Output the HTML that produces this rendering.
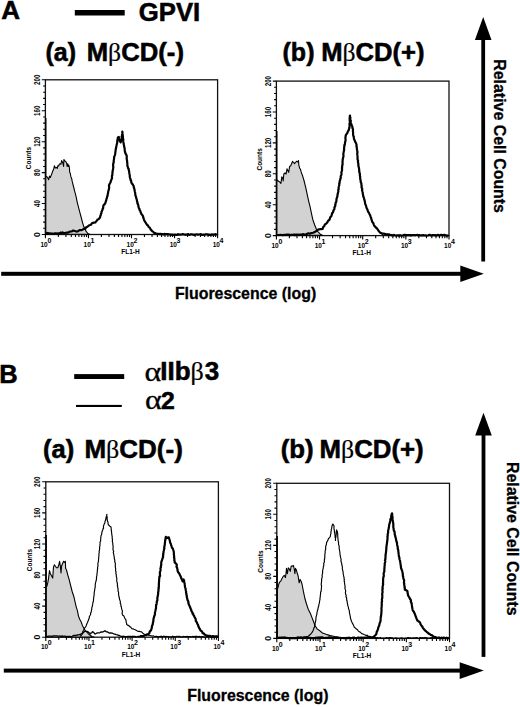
<!DOCTYPE html><html><head><meta charset="utf-8"><style>html,body{margin:0;padding:0;background:#fff;}svg{display:block;}</style></head><body>
<svg width="520" height="707" viewBox="0 0 520 707" font-family='"Liberation Sans", sans-serif'>
<style>.h{stroke:#000;stroke-width:0.55px;}</style><rect width="520" height="707" fill="#fff"/>
<text x="1.2" y="18.8" font-size="26" font-weight="bold" class="h">A</text>
<rect x="74.8" y="10" width="49.9" height="5.5" fill="#000"/>
<text x="138.8" y="20.5" font-size="25.7" font-weight="bold" class="h">GPVI</text>
<text x="45.45" y="61.2" font-size="25" font-weight="bold" class="h">(a)</text><text x="86.7" y="60.7" font-size="25.7" font-weight="bold" class="h">M<tspan font-weight="normal" font-family="Liberation Serif" style="stroke-width:0.2px">β</tspan>CD(-)</text>
<text x="282.55" y="60.5" font-size="25" font-weight="bold" class="h">(b)</text><text x="321.2" y="60.7" font-size="25.6" font-weight="bold" class="h">M<tspan font-weight="normal" font-family="Liberation Serif" style="stroke-width:0.2px">β</tspan>CD(+)</text>
<text x="43.1" y="458" font-size="25.5" font-weight="bold" class="h">(a)</text><text x="84.4" y="457.7" font-size="26" font-weight="bold" class="h">M<tspan font-weight="normal" font-family="Liberation Serif" style="stroke-width:0.2px">β</tspan>CD(-)</text>
<text x="280.7" y="458.2" font-size="25.8" font-weight="bold" class="h">(b)</text><text x="319.5" y="457.8" font-size="25.8" font-weight="bold" class="h">M<tspan font-weight="normal" font-family="Liberation Serif" style="stroke-width:0.2px">β</tspan>CD(+)</text>
<text x="-0.8" y="382.6" font-size="25.5" font-weight="bold" class="h">B</text>
<rect x="74.2" y="374.1" width="50" height="4.9" fill="#000"/>
<rect x="76" y="404.9" width="45.8" height="2.1" fill="#000"/>
<text transform="translate(144.6 380.6) scale(1.16 1)" font-size="27.5" font-family="Liberation Serif" class="h" style="stroke-width:0.3px">α</text>
<text x="160.3" y="380.4" font-size="26" font-weight="bold" class="h">IIb</text>
<text x="190.6" y="380.4" font-size="26" font-family="Liberation Serif" class="h" style="stroke-width:0.2px">β</text>
<text x="204.7" y="380.4" font-size="26" font-weight="bold" class="h">3</text>
<text transform="translate(145.1 408.8) scale(1.16 1)" font-size="27.5" font-family="Liberation Serif" class="h" style="stroke-width:0.3px">α</text>
<text x="161.0" y="408.6" font-size="24.8" font-weight="bold" class="h">2</text>
<rect x="45.4" y="79.8" width="172.20" height="154.70" fill="none" stroke="#111" stroke-width="1.3"/>
<path d="M45.40 234.50H41.80 M45.40 228.31H43.10 M45.40 222.12H43.10 M45.40 215.94H43.10 M45.40 209.75H43.10 M45.40 203.56H41.80 M45.40 197.37H43.10 M45.40 191.18H43.10 M45.40 185.00H43.10 M45.40 178.81H43.10 M45.40 172.62H41.80 M45.40 166.43H43.10 M45.40 160.24H43.10 M45.40 154.06H43.10 M45.40 147.87H43.10 M45.40 141.68H41.80 M45.40 135.49H43.10 M45.40 129.30H43.10 M45.40 123.12H43.10 M45.40 116.93H43.10 M45.40 110.74H41.80 M45.40 104.55H43.10 M45.40 98.36H43.10 M45.40 92.18H43.10 M45.40 85.99H43.10 M45.40 79.80H41.80 M45.40 234.50V238.30 M58.36 234.50V237.10 M65.94 234.50V237.10 M71.32 234.50V237.10 M75.49 234.50V237.10 M78.90 234.50V237.10 M81.78 234.50V237.10 M84.28 234.50V237.10 M86.48 234.50V237.10 M88.45 234.50V238.30 M101.41 234.50V237.10 M108.99 234.50V237.10 M114.37 234.50V237.10 M118.54 234.50V237.10 M121.95 234.50V237.10 M124.83 234.50V237.10 M127.33 234.50V237.10 M129.53 234.50V237.10 M131.50 234.50V238.30 M144.46 234.50V237.10 M152.04 234.50V237.10 M157.42 234.50V237.10 M161.59 234.50V237.10 M165.00 234.50V237.10 M167.88 234.50V237.10 M170.38 234.50V237.10 M172.58 234.50V237.10 M174.55 234.50V238.30 M187.51 234.50V237.10 M195.09 234.50V237.10 M200.47 234.50V237.10 M204.64 234.50V237.10 M208.05 234.50V237.10 M210.93 234.50V237.10 M213.43 234.50V237.10 M215.63 234.50V237.10 M217.60 234.50V238.30" stroke="#000" stroke-width="1.1" fill="none"/>
<text transform="translate(40.00 234.50) rotate(-90)" text-anchor="middle" font-size="8.6" font-weight="bold">0</text>
<text transform="translate(40.00 203.56) rotate(-90)" text-anchor="middle" font-size="8.6" font-weight="bold" textLength="6.90" lengthAdjust="spacingAndGlyphs">40</text>
<text transform="translate(40.00 172.62) rotate(-90)" text-anchor="middle" font-size="8.6" font-weight="bold" textLength="6.90" lengthAdjust="spacingAndGlyphs">80</text>
<text transform="translate(40.00 141.68) rotate(-90)" text-anchor="middle" font-size="8.6" font-weight="bold" textLength="10.35" lengthAdjust="spacingAndGlyphs">120</text>
<text transform="translate(40.00 110.74) rotate(-90)" text-anchor="middle" font-size="8.6" font-weight="bold" textLength="10.35" lengthAdjust="spacingAndGlyphs">160</text>
<text transform="translate(40.00 79.80) rotate(-90)" text-anchor="middle" font-size="8.6" font-weight="bold" textLength="10.35" lengthAdjust="spacingAndGlyphs">200</text>
<text transform="translate(31.20 158.10) rotate(-90)" text-anchor="middle" font-size="7.8" font-weight="bold" textLength="22.3" lengthAdjust="spacingAndGlyphs">Counts</text>
<text x="44.10" y="246.60" text-anchor="middle" font-size="7.9" font-weight="bold" textLength="7.2" lengthAdjust="spacingAndGlyphs">10</text>
<text x="47.40" y="242.70" font-size="7" font-weight="bold">0</text>
<text x="87.15" y="246.60" text-anchor="middle" font-size="7.9" font-weight="bold" textLength="7.2" lengthAdjust="spacingAndGlyphs">10</text>
<text x="90.45" y="242.70" font-size="7" font-weight="bold">1</text>
<text x="130.20" y="246.60" text-anchor="middle" font-size="7.9" font-weight="bold" textLength="7.2" lengthAdjust="spacingAndGlyphs">10</text>
<text x="133.50" y="242.70" font-size="7" font-weight="bold">2</text>
<text x="173.25" y="246.60" text-anchor="middle" font-size="7.9" font-weight="bold" textLength="7.2" lengthAdjust="spacingAndGlyphs">10</text>
<text x="176.55" y="242.70" font-size="7" font-weight="bold">3</text>
<text x="216.30" y="246.60" text-anchor="middle" font-size="7.9" font-weight="bold" textLength="7.2" lengthAdjust="spacingAndGlyphs">10</text>
<text x="219.60" y="242.70" font-size="7" font-weight="bold">4</text>
<text x="130.45" y="253.80" text-anchor="middle" font-size="8" font-weight="bold" textLength="18.5" lengthAdjust="spacingAndGlyphs">FL1-H</text>
<path d="M45.70 234.50V118" stroke="#000" stroke-width="1.6"/>
<rect x="276.4" y="81.1" width="172.60" height="154.50" fill="none" stroke="#111" stroke-width="1.3"/>
<path d="M276.40 235.60H272.80 M276.40 229.42H274.10 M276.40 223.24H274.10 M276.40 217.06H274.10 M276.40 210.88H274.10 M276.40 204.70H272.80 M276.40 198.52H274.10 M276.40 192.34H274.10 M276.40 186.16H274.10 M276.40 179.98H274.10 M276.40 173.80H272.80 M276.40 167.62H274.10 M276.40 161.44H274.10 M276.40 155.26H274.10 M276.40 149.08H274.10 M276.40 142.90H272.80 M276.40 136.72H274.10 M276.40 130.54H274.10 M276.40 124.36H274.10 M276.40 118.18H274.10 M276.40 112.00H272.80 M276.40 105.82H274.10 M276.40 99.64H274.10 M276.40 93.46H274.10 M276.40 87.28H274.10 M276.40 81.10H272.80 M276.40 235.60V239.40 M289.39 235.60V238.20 M296.99 235.60V238.20 M302.38 235.60V238.20 M306.56 235.60V238.20 M309.98 235.60V238.20 M312.87 235.60V238.20 M315.37 235.60V238.20 M317.58 235.60V238.20 M319.55 235.60V239.40 M332.54 235.60V238.20 M340.14 235.60V238.20 M345.53 235.60V238.20 M349.71 235.60V238.20 M353.13 235.60V238.20 M356.02 235.60V238.20 M358.52 235.60V238.20 M360.73 235.60V238.20 M362.70 235.60V239.40 M375.69 235.60V238.20 M383.29 235.60V238.20 M388.68 235.60V238.20 M392.86 235.60V238.20 M396.28 235.60V238.20 M399.17 235.60V238.20 M401.67 235.60V238.20 M403.88 235.60V238.20 M405.85 235.60V239.40 M418.84 235.60V238.20 M426.44 235.60V238.20 M431.83 235.60V238.20 M436.01 235.60V238.20 M439.43 235.60V238.20 M442.32 235.60V238.20 M444.82 235.60V238.20 M447.03 235.60V238.20 M449.00 235.60V239.40" stroke="#000" stroke-width="1.1" fill="none"/>
<text transform="translate(271.00 235.60) rotate(-90)" text-anchor="middle" font-size="8.6" font-weight="bold">0</text>
<text transform="translate(271.00 204.70) rotate(-90)" text-anchor="middle" font-size="8.6" font-weight="bold" textLength="6.90" lengthAdjust="spacingAndGlyphs">40</text>
<text transform="translate(271.00 173.80) rotate(-90)" text-anchor="middle" font-size="8.6" font-weight="bold" textLength="6.90" lengthAdjust="spacingAndGlyphs">80</text>
<text transform="translate(271.00 142.90) rotate(-90)" text-anchor="middle" font-size="8.6" font-weight="bold" textLength="10.35" lengthAdjust="spacingAndGlyphs">120</text>
<text transform="translate(271.00 112.00) rotate(-90)" text-anchor="middle" font-size="8.6" font-weight="bold" textLength="10.35" lengthAdjust="spacingAndGlyphs">160</text>
<text transform="translate(271.00 81.10) rotate(-90)" text-anchor="middle" font-size="8.6" font-weight="bold" textLength="10.35" lengthAdjust="spacingAndGlyphs">200</text>
<text transform="translate(262.20 159.40) rotate(-90)" text-anchor="middle" font-size="7.8" font-weight="bold" textLength="22.3" lengthAdjust="spacingAndGlyphs">Counts</text>
<text x="275.10" y="247.70" text-anchor="middle" font-size="7.9" font-weight="bold" textLength="7.2" lengthAdjust="spacingAndGlyphs">10</text>
<text x="278.40" y="243.80" font-size="7" font-weight="bold">0</text>
<text x="318.25" y="247.70" text-anchor="middle" font-size="7.9" font-weight="bold" textLength="7.2" lengthAdjust="spacingAndGlyphs">10</text>
<text x="321.55" y="243.80" font-size="7" font-weight="bold">1</text>
<text x="361.40" y="247.70" text-anchor="middle" font-size="7.9" font-weight="bold" textLength="7.2" lengthAdjust="spacingAndGlyphs">10</text>
<text x="364.70" y="243.80" font-size="7" font-weight="bold">2</text>
<text x="404.55" y="247.70" text-anchor="middle" font-size="7.9" font-weight="bold" textLength="7.2" lengthAdjust="spacingAndGlyphs">10</text>
<text x="407.85" y="243.80" font-size="7" font-weight="bold">3</text>
<text x="447.70" y="247.70" text-anchor="middle" font-size="7.9" font-weight="bold" textLength="7.2" lengthAdjust="spacingAndGlyphs">10</text>
<text x="451.00" y="243.80" font-size="7" font-weight="bold">4</text>
<text x="361.65" y="254.90" text-anchor="middle" font-size="8" font-weight="bold" textLength="18.5" lengthAdjust="spacingAndGlyphs">FL1-H</text>
<path d="M276.70 235.60V131" stroke="#000" stroke-width="1.6"/>
<rect x="45.8" y="481.8" width="172.60" height="155.40" fill="none" stroke="#111" stroke-width="1.3"/>
<path d="M45.80 637.20H42.20 M45.80 630.98H43.50 M45.80 624.77H43.50 M45.80 618.55H43.50 M45.80 612.34H43.50 M45.80 606.12H42.20 M45.80 599.90H43.50 M45.80 593.69H43.50 M45.80 587.47H43.50 M45.80 581.26H43.50 M45.80 575.04H42.20 M45.80 568.82H43.50 M45.80 562.61H43.50 M45.80 556.39H43.50 M45.80 550.18H43.50 M45.80 543.96H42.20 M45.80 537.74H43.50 M45.80 531.53H43.50 M45.80 525.31H43.50 M45.80 519.10H43.50 M45.80 512.88H42.20 M45.80 506.66H43.50 M45.80 500.45H43.50 M45.80 494.23H43.50 M45.80 488.02H43.50 M45.80 481.80H42.20 M45.80 637.20V641.00 M58.79 637.20V639.80 M66.39 637.20V639.80 M71.78 637.20V639.80 M75.96 637.20V639.80 M79.38 637.20V639.80 M82.27 637.20V639.80 M84.77 637.20V639.80 M86.98 637.20V639.80 M88.95 637.20V641.00 M101.94 637.20V639.80 M109.54 637.20V639.80 M114.93 637.20V639.80 M119.11 637.20V639.80 M122.53 637.20V639.80 M125.42 637.20V639.80 M127.92 637.20V639.80 M130.13 637.20V639.80 M132.10 637.20V641.00 M145.09 637.20V639.80 M152.69 637.20V639.80 M158.08 637.20V639.80 M162.26 637.20V639.80 M165.68 637.20V639.80 M168.57 637.20V639.80 M171.07 637.20V639.80 M173.28 637.20V639.80 M175.25 637.20V641.00 M188.24 637.20V639.80 M195.84 637.20V639.80 M201.23 637.20V639.80 M205.41 637.20V639.80 M208.83 637.20V639.80 M211.72 637.20V639.80 M214.22 637.20V639.80 M216.43 637.20V639.80 M218.40 637.20V641.00" stroke="#000" stroke-width="1.1" fill="none"/>
<text transform="translate(40.40 637.20) rotate(-90)" text-anchor="middle" font-size="8.6" font-weight="bold">0</text>
<text transform="translate(40.40 606.12) rotate(-90)" text-anchor="middle" font-size="8.6" font-weight="bold" textLength="6.90" lengthAdjust="spacingAndGlyphs">40</text>
<text transform="translate(40.40 575.04) rotate(-90)" text-anchor="middle" font-size="8.6" font-weight="bold" textLength="6.90" lengthAdjust="spacingAndGlyphs">80</text>
<text transform="translate(40.40 543.96) rotate(-90)" text-anchor="middle" font-size="8.6" font-weight="bold" textLength="10.35" lengthAdjust="spacingAndGlyphs">120</text>
<text transform="translate(40.40 512.88) rotate(-90)" text-anchor="middle" font-size="8.6" font-weight="bold" textLength="10.35" lengthAdjust="spacingAndGlyphs">160</text>
<text transform="translate(40.40 481.80) rotate(-90)" text-anchor="middle" font-size="8.6" font-weight="bold" textLength="10.35" lengthAdjust="spacingAndGlyphs">200</text>
<text transform="translate(31.60 560.10) rotate(-90)" text-anchor="middle" font-size="7.8" font-weight="bold" textLength="22.3" lengthAdjust="spacingAndGlyphs">Counts</text>
<text x="44.50" y="649.30" text-anchor="middle" font-size="7.9" font-weight="bold" textLength="7.2" lengthAdjust="spacingAndGlyphs">10</text>
<text x="47.80" y="645.40" font-size="7" font-weight="bold">0</text>
<text x="87.65" y="649.30" text-anchor="middle" font-size="7.9" font-weight="bold" textLength="7.2" lengthAdjust="spacingAndGlyphs">10</text>
<text x="90.95" y="645.40" font-size="7" font-weight="bold">1</text>
<text x="130.80" y="649.30" text-anchor="middle" font-size="7.9" font-weight="bold" textLength="7.2" lengthAdjust="spacingAndGlyphs">10</text>
<text x="134.10" y="645.40" font-size="7" font-weight="bold">2</text>
<text x="173.95" y="649.30" text-anchor="middle" font-size="7.9" font-weight="bold" textLength="7.2" lengthAdjust="spacingAndGlyphs">10</text>
<text x="177.25" y="645.40" font-size="7" font-weight="bold">3</text>
<text x="217.10" y="649.30" text-anchor="middle" font-size="7.9" font-weight="bold" textLength="7.2" lengthAdjust="spacingAndGlyphs">10</text>
<text x="220.40" y="645.40" font-size="7" font-weight="bold">4</text>
<text x="131.05" y="656.50" text-anchor="middle" font-size="8" font-weight="bold" textLength="18.5" lengthAdjust="spacingAndGlyphs">FL1-H</text>
<path d="M46.10 637.20V535" stroke="#000" stroke-width="1.6"/>
<rect x="276.8" y="483.3" width="172.70" height="155.10" fill="none" stroke="#111" stroke-width="1.3"/>
<path d="M276.80 638.40H273.20 M276.80 632.20H274.50 M276.80 625.99H274.50 M276.80 619.79H274.50 M276.80 613.58H274.50 M276.80 607.38H273.20 M276.80 601.18H274.50 M276.80 594.97H274.50 M276.80 588.77H274.50 M276.80 582.56H274.50 M276.80 576.36H273.20 M276.80 570.16H274.50 M276.80 563.95H274.50 M276.80 557.75H274.50 M276.80 551.54H274.50 M276.80 545.34H273.20 M276.80 539.14H274.50 M276.80 532.93H274.50 M276.80 526.73H274.50 M276.80 520.52H274.50 M276.80 514.32H273.20 M276.80 508.12H274.50 M276.80 501.91H274.50 M276.80 495.71H274.50 M276.80 489.50H274.50 M276.80 483.30H273.20 M276.80 638.40V642.20 M289.80 638.40V641.00 M297.40 638.40V641.00 M302.79 638.40V641.00 M306.98 638.40V641.00 M310.40 638.40V641.00 M313.29 638.40V641.00 M315.79 638.40V641.00 M318.00 638.40V641.00 M319.98 638.40V642.20 M332.97 638.40V641.00 M340.57 638.40V641.00 M345.97 638.40V641.00 M350.15 638.40V641.00 M353.57 638.40V641.00 M356.46 638.40V641.00 M358.97 638.40V641.00 M361.17 638.40V641.00 M363.15 638.40V642.20 M376.15 638.40V641.00 M383.75 638.40V641.00 M389.14 638.40V641.00 M393.33 638.40V641.00 M396.75 638.40V641.00 M399.64 638.40V641.00 M402.14 638.40V641.00 M404.35 638.40V641.00 M406.32 638.40V642.20 M419.32 638.40V641.00 M426.92 638.40V641.00 M432.32 638.40V641.00 M436.50 638.40V641.00 M439.92 638.40V641.00 M442.81 638.40V641.00 M445.32 638.40V641.00 M447.52 638.40V641.00 M449.50 638.40V642.20" stroke="#000" stroke-width="1.1" fill="none"/>
<text transform="translate(271.40 638.40) rotate(-90)" text-anchor="middle" font-size="8.6" font-weight="bold">0</text>
<text transform="translate(271.40 607.38) rotate(-90)" text-anchor="middle" font-size="8.6" font-weight="bold" textLength="6.90" lengthAdjust="spacingAndGlyphs">40</text>
<text transform="translate(271.40 576.36) rotate(-90)" text-anchor="middle" font-size="8.6" font-weight="bold" textLength="6.90" lengthAdjust="spacingAndGlyphs">80</text>
<text transform="translate(271.40 545.34) rotate(-90)" text-anchor="middle" font-size="8.6" font-weight="bold" textLength="10.35" lengthAdjust="spacingAndGlyphs">120</text>
<text transform="translate(271.40 514.32) rotate(-90)" text-anchor="middle" font-size="8.6" font-weight="bold" textLength="10.35" lengthAdjust="spacingAndGlyphs">160</text>
<text transform="translate(271.40 483.30) rotate(-90)" text-anchor="middle" font-size="8.6" font-weight="bold" textLength="10.35" lengthAdjust="spacingAndGlyphs">200</text>
<text transform="translate(262.60 561.60) rotate(-90)" text-anchor="middle" font-size="7.8" font-weight="bold" textLength="22.3" lengthAdjust="spacingAndGlyphs">Counts</text>
<text x="275.50" y="650.50" text-anchor="middle" font-size="7.9" font-weight="bold" textLength="7.2" lengthAdjust="spacingAndGlyphs">10</text>
<text x="278.80" y="646.60" font-size="7" font-weight="bold">0</text>
<text x="318.68" y="650.50" text-anchor="middle" font-size="7.9" font-weight="bold" textLength="7.2" lengthAdjust="spacingAndGlyphs">10</text>
<text x="321.98" y="646.60" font-size="7" font-weight="bold">1</text>
<text x="361.85" y="650.50" text-anchor="middle" font-size="7.9" font-weight="bold" textLength="7.2" lengthAdjust="spacingAndGlyphs">10</text>
<text x="365.15" y="646.60" font-size="7" font-weight="bold">2</text>
<text x="405.02" y="650.50" text-anchor="middle" font-size="7.9" font-weight="bold" textLength="7.2" lengthAdjust="spacingAndGlyphs">10</text>
<text x="408.32" y="646.60" font-size="7" font-weight="bold">3</text>
<text x="448.20" y="650.50" text-anchor="middle" font-size="7.9" font-weight="bold" textLength="7.2" lengthAdjust="spacingAndGlyphs">10</text>
<text x="451.50" y="646.60" font-size="7" font-weight="bold">4</text>
<text x="362.10" y="657.70" text-anchor="middle" font-size="8" font-weight="bold" textLength="18.5" lengthAdjust="spacingAndGlyphs">FL1-H</text>
<path d="M277.10 638.40V536" stroke="#000" stroke-width="1.6"/>
<polygon points="45.8,234.0 45.8,176.4 46.3,176.6 47.5,177.2 48.6,179.8 49.5,176.1 50.3,177.5 51.5,174.6 52.7,171.2 53.8,168.8 54.4,165.7 55.3,168.0 56.4,167.4 57.3,168.3 57.8,165.7 58.7,166.0 59.3,164.2 60.2,163.7 61.0,164.2 61.6,160.5 62.5,162.2 63.0,163.7 63.6,166.5 63.9,159.6 64.5,160.2 65.1,161.3 65.9,161.6 66.8,163.7 67.1,166.5 67.7,163.7 68.2,166.5 68.8,165.1 69.4,167.7 69.7,172.3 70.3,173.5 70.8,176.4 71.7,178.7 72.2,181.4 73.5,186.5 74.8,191.6 76.1,196.6 77.3,202.6 78.6,207.7 79.9,212.7 81.1,217.0 82.4,222.1 83.7,226.3 84.9,228.8 86.2,231.4 87.9,233.5 90.0,234.4" fill="#d2d2d2" stroke="#000" stroke-width="1.1" stroke-linejoin="round"/>
<polyline points="46.0,233.2 47.2,233.3 47.9,232.9 49.1,233.5 50.0,233.4 51.4,233.5 52.7,233.6 54.0,233.9 55.0,233.3 56.0,233.4 57.1,233.6 58.4,233.3 59.5,233.3 60.5,232.6 61.7,232.9 62.5,232.4 63.8,233.0 65.0,233.0 66.1,232.7 67.1,232.7 68.2,232.6 69.5,231.8 70.5,231.5 71.9,231.4 73.1,230.5 74.1,230.8 75.5,231.2 76.5,231.6 77.4,231.5 78.9,230.6 79.9,230.1 81.3,230.1 82.4,229.7 83.8,228.9 84.9,228.8 85.6,228.3 86.4,227.1 87.5,226.7 88.5,225.9 89.2,225.2 90.0,225.0 91.1,224.6 91.9,223.2 92.6,222.9 94.1,222.6 95.4,222.5 96.0,221.5 96.6,221.0 97.5,219.6 98.5,219.3 99.1,218.6 100.1,217.5 100.2,216.3 100.8,215.0 100.9,214.1 101.4,213.2 101.5,211.8 101.8,211.2 102.5,209.7 102.6,209.0 103.1,208.3 103.2,207.0 103.4,205.8 103.9,204.7 104.6,204.3 105.2,203.4 105.6,202.2 106.1,200.7 106.3,200.2 106.5,198.7 106.9,198.0 107.1,196.6 107.6,195.8 107.6,195.1 107.7,194.2 108.1,192.9 108.1,192.2 108.4,191.0 108.8,189.6 109.0,188.6 109.2,187.5 109.0,186.0 109.0,185.3 109.7,183.7 110.3,182.7 110.7,181.8 111.1,180.4 111.5,179.3 112.0,178.4 112.0,177.4 111.9,176.1 112.4,175.1 112.3,173.8 112.6,172.8 112.4,171.8 112.7,171.4 112.8,170.0 113.1,169.0 113.3,167.2 113.2,166.3 113.1,165.0 113.2,163.8 113.6,162.7 113.7,162.2 113.7,160.8 113.9,159.6 114.1,158.4 114.1,157.0 114.6,155.9 114.9,155.1 115.2,154.0 115.3,153.0 115.4,151.9 115.6,150.6 115.7,149.5 115.8,148.8 116.1,147.9 116.3,146.3 116.5,145.6 116.8,144.2 117.2,143.0 117.2,141.7 117.4,141.3 117.3,140.2 117.8,138.9 117.8,137.5 118.8,137.0 119.1,138.3 119.4,139.3 119.5,139.9 119.7,140.9 120.7,142.3 121.0,140.9 121.1,140.4 121.6,139.0 121.9,137.6 121.6,136.6 122.1,135.6 122.1,134.7 122.3,133.5 122.4,132.8 122.3,131.7 122.5,132.8 122.4,133.9 122.6,135.1 122.9,136.1 122.9,137.6 123.1,138.5 123.3,139.7 123.2,140.5 123.3,141.7 123.5,143.1 123.7,143.3 123.8,145.0 124.1,145.5 124.1,146.8 124.5,147.6 124.7,149.1 124.6,150.2 124.8,150.5 125.0,151.9 125.3,153.0 125.7,153.9 126.5,155.2 126.7,156.1 126.7,157.7 126.7,158.0 126.8,159.5 127.1,160.8 127.1,162.0 127.4,163.2 127.3,163.7 127.4,165.3 127.5,166.3 127.9,167.1 128.1,168.2 128.7,168.9 128.7,169.9 129.1,171.3 129.2,172.2 129.4,173.7 129.7,174.9 129.8,176.1 129.8,176.9 130.1,178.1 130.7,179.5 130.5,180.0 131.2,181.0 131.3,182.3 131.7,183.2 132.1,183.8 132.9,184.6 133.4,185.8 133.8,186.5 133.8,187.5 134.3,188.7 134.5,189.6 134.7,190.8 134.8,191.5 135.1,192.5 135.3,193.9 135.3,194.7 135.6,195.9 136.1,197.2 136.2,198.1 136.5,198.7 136.9,200.2 137.0,201.2 137.5,202.5 137.3,203.3 137.9,204.0 138.3,205.5 138.5,206.5 138.7,207.9 139.4,208.7 139.5,210.0 140.2,210.6 140.5,211.9 140.9,212.7 141.4,214.2 142.0,214.6 142.8,215.8 143.1,216.5 143.3,217.7 143.9,219.4 144.3,220.4 144.7,221.2 145.3,222.1 145.9,223.0 146.6,224.2 147.2,225.1 148.0,225.5 148.4,226.7 149.3,227.3 150.2,228.4 150.7,229.6 151.6,230.4 152.5,231.4 153.3,231.9 154.3,233.1 155.5,233.2 156.8,233.9 158.2,233.8 159.4,234.1 160.3,233.8 161.7,234.1 162.8,234.2 163.7,234.6 164.6,233.9 166.1,234.3 166.9,234.0 167.8,234.0 169.0,234.5 170.0,234.4 171.0,234.9 172.0,234.5 173.1,234.8 174.1,234.7 174.8,234.6 176.0,234.8 177.1,234.8 178.0,234.2 178.8,234.7 180.2,234.6 180.8,234.6 182.0,234.5 182.8,234.1 184.2,234.5 185.1,234.8 186.2,234.6 186.8,234.5 188.2,234.1 189.0,234.8 189.7,234.9 190.8,234.3 191.9,234.4 193.1,234.7 193.9,234.8 195.1,234.6 196.1,234.5 196.8,234.4 198.0,234.7 198.7,234.5 199.8,234.5 200.9,234.1 201.9,234.8 203.1,234.9 204.0,234.5 204.8,234.7 205.8,234.3 207.1,234.3 208.1,234.8 208.9,234.7 209.7,234.8 210.7,234.8 212.2,234.4 213.0,234.8 214.1,234.7 215.2,234.1 215.9,234.5 217.0,234.5" fill="none" stroke="#000" stroke-width="2.2" stroke-linejoin="round"/>
<polygon points="276.9,235.2 276.9,179.8 278.3,181.0 279.8,182.1 280.9,183.3 281.8,176.9 282.7,178.1 283.2,181.0 283.8,174.0 285.0,172.9 286.1,174.0 287.0,168.8 287.8,170.6 288.7,172.3 289.6,166.5 290.7,165.7 291.9,163.1 292.5,161.3 293.6,162.5 294.5,163.7 295.4,162.5 296.5,161.3 297.7,161.9 298.5,160.5 298.8,164.8 299.7,168.3 300.5,169.4 301.1,171.7 301.7,173.5 302.6,175.8 304.0,180.5 305.8,187.9 307.2,194.3 308.6,200.8 310.0,206.3 311.3,212.7 312.7,219.2 314.6,224.7 316.4,229.3 317.8,231.6 320.1,233.9 322.8,235.4" fill="#d2d2d2" stroke="#000" stroke-width="1.1" stroke-linejoin="round"/>
<polyline points="277.2,235.0 278.4,235.0 279.4,235.0 280.4,234.8 281.7,235.0 282.7,235.2 283.8,234.8 285.0,235.0 286.0,234.7 287.0,234.7 288.0,234.7 289.1,234.6 289.8,235.1 291.2,234.9 292.0,234.8 293.0,235.0 294.0,234.5 294.8,235.1 296.1,234.6 297.1,234.7 298.0,234.7 299.2,234.9 300.3,234.6 301.4,234.7 302.6,234.3 303.6,234.2 304.7,234.5 306.0,234.3 307.2,233.9 308.3,233.3 309.8,233.7 310.9,233.1 311.8,233.0 313.1,232.7 314.0,232.4 315.2,231.7 316.4,231.1 317.4,230.5 318.0,229.6 319.2,229.3 320.4,229.2 321.4,229.2 322.5,229.0 323.1,227.5 323.3,226.8 324.3,226.1 324.7,224.7 325.8,223.9 326.5,223.4 327.4,222.3 327.6,221.7 328.4,220.5 329.4,219.8 329.9,218.5 330.2,217.2 330.7,216.9 331.5,215.9 331.9,214.1 332.1,213.2 332.9,212.5 333.2,211.7 333.5,210.3 334.2,209.3 334.4,208.9 334.4,207.5 334.9,206.6 335.4,205.5 335.2,204.5 335.7,203.3 335.7,202.6 336.4,201.4 336.4,200.6 336.5,199.2 336.7,198.6 336.9,197.6 337.4,196.3 337.5,195.4 337.5,194.3 337.8,193.7 338.1,192.2 338.4,191.7 338.2,189.8 338.7,189.1 338.6,187.7 338.8,186.8 338.9,186.2 339.3,185.1 339.2,183.5 339.7,182.8 339.6,181.6 339.8,180.8 340.2,179.8 340.2,179.1 340.8,178.0 340.7,176.8 340.8,175.9 341.3,174.9 341.5,174.2 341.4,172.2 341.7,171.4 342.0,170.5 342.1,169.1 341.9,168.3 342.2,167.0 342.1,165.9 342.6,164.6 342.5,163.5 342.6,163.3 342.5,161.6 342.7,160.9 342.6,160.2 342.9,158.5 343.1,157.7 343.4,156.8 343.5,155.2 343.3,154.4 343.4,153.7 343.6,152.4 343.8,151.2 344.1,150.3 344.1,148.8 344.1,147.6 344.4,146.5 344.3,145.1 344.7,144.9 345.0,143.5 345.0,142.5 345.3,141.4 345.6,140.5 345.5,139.1 345.4,138.0 345.6,136.4 345.7,135.5 346.3,134.3 346.6,134.0 347.4,132.9 347.9,131.2 348.7,130.4 348.8,129.7 349.3,128.1 349.5,127.0 349.5,126.0 349.9,124.4 349.4,124.2 349.7,122.7 349.8,122.1 349.7,120.5 349.7,119.8 349.6,118.8 349.8,117.9 349.7,116.8 350.0,115.5 350.0,116.7 350.4,117.6 350.3,118.3 350.3,119.6 350.9,120.9 350.6,121.6 350.8,122.7 351.0,123.6 351.7,125.0 352.1,126.1 352.5,127.1 352.3,127.7 352.8,128.8 353.0,129.7 352.9,131.2 353.1,132.2 353.1,133.7 353.1,134.5 353.3,135.8 353.8,136.6 353.8,138.0 354.1,139.3 354.8,140.6 355.0,141.4 355.6,142.4 356.3,144.0 356.6,145.1 356.4,146.4 356.8,147.0 356.8,148.6 357.0,149.4 357.2,150.7 357.5,152.2 357.2,153.3 357.3,154.2 357.4,155.4 357.5,156.1 357.6,157.5 357.5,158.9 357.6,159.6 358.1,160.5 357.9,162.3 358.2,162.9 358.4,164.2 358.3,165.2 358.5,165.9 358.8,167.6 359.0,168.1 359.1,169.7 359.3,170.8 359.2,171.8 359.4,172.1 359.8,173.6 359.9,174.6 359.8,175.6 360.2,176.5 360.1,177.3 360.3,178.6 360.2,179.4 360.7,180.5 360.7,182.2 361.3,183.1 361.4,184.0 361.4,185.1 361.7,185.8 361.5,187.4 362.2,188.5 362.2,188.9 362.1,190.4 362.5,191.8 362.7,192.3 362.8,193.8 363.0,194.7 363.2,195.6 363.3,196.7 363.9,197.6 364.1,198.8 364.4,200.0 364.7,200.8 364.9,201.8 365.1,203.2 365.2,203.9 365.8,205.2 366.2,206.4 366.4,207.5 366.9,208.7 367.5,209.6 367.7,210.6 368.3,212.0 368.9,212.7 369.2,213.4 370.0,215.0 370.4,215.9 370.5,216.8 371.2,218.0 371.2,218.7 371.9,220.6 371.9,220.9 372.5,222.3 373.4,223.3 373.8,224.6 374.3,225.8 375.1,226.5 375.8,227.5 376.4,227.9 377.0,228.5 377.8,229.7 378.6,230.9 379.3,231.5 379.7,232.4 380.5,232.9 381.8,233.3 382.4,233.8 383.8,233.5 384.7,233.9 385.7,234.2 387.0,234.3 388.1,234.4 389.2,234.4 390.2,235.0 391.1,235.0 392.2,235.5 393.6,234.9 395.0,235.3 396.2,235.5 397.2,235.4 398.1,235.3 398.9,235.7 400.0,235.2 400.8,235.4 401.8,235.6 403.1,235.3 404.3,234.9 405.2,234.9 406.0,235.5 406.9,235.0 408.3,235.1 409.2,235.2 410.4,235.0 411.0,235.6 412.3,235.0 413.1,235.2 414.4,235.1 415.3,235.3 416.1,235.0 417.4,234.9 418.0,235.4 419.4,235.0 420.4,235.4 421.4,235.3 422.0,235.5 423.3,235.1 424.2,235.5 425.2,235.4 426.4,235.5 427.4,235.5 428.3,235.4 429.1,234.9 430.1,234.9 431.2,235.6 432.2,235.2 433.5,235.0 434.5,235.3 435.1,235.2 436.5,235.5 437.2,235.1 438.1,234.9 439.2,235.5 440.7,234.9 441.6,234.9 442.4,235.0 443.6,235.1 444.3,234.9 445.7,235.3 446.5,235.6 447.5,235.5 448.5,235.3" fill="none" stroke="#000" stroke-width="2.2" stroke-linejoin="round"/>
<polygon points="46.3,637.0 46.3,587.0 46.9,586.2 47.8,582.7 48.6,578.1 49.5,570.6 50.3,573.5 51.5,575.8 52.7,578.1 53.5,567.1 54.4,564.8 55.5,566.5 56.4,567.7 57.8,567.7 59.0,564.2 59.6,561.3 60.4,566.5 61.0,572.9 61.6,566.0 62.5,563.7 63.6,561.3 64.8,562.5 65.4,561.3 65.6,568.3 66.5,570.0 67.4,573.5 68.2,576.4 69.4,580.4 70.5,585.0 72.3,592.0 73.9,596.7 75.1,602.1 76.2,606.8 77.4,610.6 78.5,616.1 79.7,619.2 81.3,622.3 82.4,625.4 84.0,628.5 85.5,630.8 87.1,632.4 89.0,634.5 92.0,636.5 94.0,637.0" fill="#d2d2d2" stroke="#000" stroke-width="1.1" stroke-linejoin="round"/>
<polyline points="80.0,636.5 80.8,635.7 81.4,635.2 82.4,634.0 82.6,632.7 82.9,631.2 83.7,630.7 84.0,629.3 84.6,628.2 85.5,627.0 86.1,626.0 86.4,624.9 87.0,623.5 87.5,622.5 88.1,621.1 88.5,620.0 89.1,618.6 89.3,617.5 89.4,616.4 90.0,615.5 90.6,614.5 90.6,612.9 91.2,612.4 91.3,611.0 91.6,609.8 91.8,609.0 91.7,607.9 92.4,606.2 92.4,605.5 92.7,604.4 92.8,603.1 93.0,602.3 93.4,601.3 93.5,599.9 93.5,599.0 93.7,598.1 93.7,597.1 94.0,595.7 94.2,594.3 94.1,593.9 94.2,592.8 94.4,591.5 94.6,590.6 94.7,589.7 94.8,588.8 95.1,587.3 95.3,586.7 95.2,585.5 95.3,584.4 95.4,583.4 95.7,582.3 95.9,581.1 96.3,580.5 96.3,579.5 96.6,578.5 96.4,577.4 96.8,575.9 97.0,575.2 96.9,574.4 97.1,573.0 97.2,572.3 97.4,570.6 97.4,569.4 97.6,569.1 97.6,567.2 97.9,566.2 98.0,565.9 97.9,564.4 97.8,563.4 98.3,562.1 98.5,561.1 98.5,560.1 98.6,559.1 98.7,557.6 98.8,556.3 99.0,555.2 98.9,554.5 98.9,553.8 99.3,552.4 99.1,551.1 99.5,550.3 99.6,548.7 99.6,547.9 99.7,546.4 100.0,545.6 99.9,544.6 100.1,543.5 100.0,542.0 100.6,541.2 100.6,540.1 100.7,539.0 100.8,537.6 100.9,536.7 101.0,535.8 101.6,534.6 101.7,533.9 101.9,532.7 102.0,531.9 102.4,530.5 102.9,529.8 103.0,528.7 103.6,528.2 103.4,526.7 103.5,526.1 103.9,524.8 104.5,523.6 104.9,522.8 105.0,521.5 105.4,520.5 105.6,520.1 105.8,519.3 105.9,517.9 106.4,516.3 106.6,516.0 106.9,514.4 106.7,515.7 107.1,517.0 107.3,518.0 107.0,518.6 107.3,519.9 107.5,521.1 107.9,521.8 108.0,522.8 108.2,524.1 108.3,524.8 109.2,525.4 109.8,526.3 110.8,526.8 111.1,527.5 111.2,529.2 111.3,530.5 111.6,531.6 111.5,532.0 111.7,533.3 111.8,534.7 112.0,535.7 112.2,536.9 112.2,538.3 112.4,539.2 112.5,539.8 112.3,541.4 112.6,542.3 112.8,543.5 112.8,544.6 113.1,545.8 113.1,547.0 113.0,548.3 113.0,549.2 113.1,550.1 113.7,551.5 113.3,552.3 113.6,553.8 113.8,554.5 113.9,555.5 113.9,556.1 114.4,557.2 114.2,558.2 114.7,559.7 114.9,560.7 114.6,561.2 114.9,562.0 115.4,563.7 115.3,564.4 115.3,565.7 115.3,566.9 115.5,567.9 115.7,568.8 115.6,570.0 115.6,571.1 116.1,571.8 115.8,573.5 116.3,574.6 116.3,575.6 116.4,576.8 116.8,578.1 116.8,579.2 116.7,580.3 116.9,581.7 117.3,582.8 117.3,583.6 117.5,584.7 117.3,585.9 117.7,586.5 117.7,587.7 118.1,589.0 118.0,590.1 118.1,591.2 118.5,591.9 118.6,593.7 118.5,594.2 118.8,595.7 119.1,597.3 119.4,598.0 119.4,599.1 119.8,600.0 120.2,601.1 120.4,601.6 120.2,603.1 120.7,604.0 120.9,604.7 120.9,606.1 121.4,606.8 121.5,608.1 121.7,608.8 122.0,609.9 122.3,610.5 122.4,611.6 122.1,613.4 122.2,613.6 122.5,615.0 123.7,615.8 124.1,616.5 124.6,617.7 125.4,619.2 125.7,619.2 126.0,620.5 126.1,621.1 126.1,622.1 126.6,623.4 126.7,624.5 127.5,625.1 128.9,625.6 129.6,626.6 130.7,627.0 131.1,627.6 132.0,628.8 133.2,628.9 133.9,629.3 135.2,629.8 136.1,630.3 137.4,631.0 138.4,631.4 139.6,631.3 140.3,631.8 141.6,631.9 142.5,632.9 143.7,634.0 144.6,634.2 145.7,634.6 146.9,634.6 148.0,635.2 148.7,635.3 150.0,635.5 151.1,635.7 152.3,636.0 153.1,635.8 154.2,636.3 155.0,636.5 156.2,636.2 157.1,636.5 158.3,636.9 159.0,636.5 159.8,636.7 161.2,636.1 162.1,637.0 162.9,636.6 163.9,636.1 165.0,636.7 166.2,636.3 167.0,636.5 168.3,636.5 169.1,636.8 170.3,636.9 170.9,637.0 172.2,636.4 172.9,636.2 173.8,636.5 174.8,636.6 176.0,636.9 176.8,636.2 178.1,636.2 179.0,636.8 179.8,636.3 180.8,637.0 182.2,637.1 182.9,636.4 184.2,636.5 185.3,636.6 186.2,636.7 186.9,636.4 188.2,636.5 189.1,636.6 190.2,636.6 191.0,636.7 192.1,636.8 193.0,636.3 193.8,636.9 195.2,636.4 196.1,636.3 196.9,636.3 198.2,637.0 199.1,636.4 200.2,636.7 201.1,636.6 201.8,636.8 202.9,636.6 203.9,637.0 205.0,637.1 206.1,637.0 206.7,637.0 208.0,636.8 209.0,636.7 210.0,636.7 210.8,636.7 211.9,637.1 212.8,637.1 213.8,637.2 214.8,637.0 215.9,636.4 217.1,637.1 218.0,636.8" fill="none" stroke="#000" stroke-width="1.15" stroke-linejoin="round"/>
<polyline points="46.5,636.3 47.6,636.3 48.5,636.2 49.5,636.1 50.7,636.2 51.6,636.4 52.7,636.0 53.8,635.9 54.8,635.9 55.9,635.8 57.0,635.8 57.7,636.2 59.2,636.1 60.0,636.0 61.0,636.3 62.0,635.8 62.8,636.5 64.1,636.1 65.1,636.2 66.1,636.6 67.0,636.5 67.9,636.7 68.9,636.5 70.0,636.5 71.0,636.6 72.3,636.3 73.5,635.4 74.7,635.5 76.1,635.5 77.3,634.9 78.3,635.0 79.3,634.7 80.3,634.5 81.4,633.8 82.4,633.2 83.5,632.6 84.2,631.6 85.5,631.2 86.8,631.4 87.9,631.6 88.6,632.5 89.4,632.8 90.2,634.0 90.7,633.1 91.9,632.8 92.5,631.6 93.5,632.2 94.3,633.1 94.9,634.0 95.7,633.8 97.0,633.0 97.9,632.9 99.3,632.9 100.3,632.5 101.1,631.8 102.2,632.1 103.5,631.7 104.5,630.9 105.5,631.0 106.6,631.9 107.4,631.9 108.7,632.8 109.8,633.0 110.8,633.0 112.2,633.1 113.0,633.5 114.3,634.2 114.9,634.2 116.2,634.6 117.5,634.9 118.1,635.3 119.4,635.5 120.4,636.2 121.3,636.3 122.7,636.3 123.4,636.2 124.6,636.7 125.5,636.6 126.6,636.6 127.9,636.3 128.8,636.4 129.6,636.3 130.9,636.3 132.0,636.9 132.8,636.2 134.1,636.6 134.8,636.3 135.9,636.9 137.1,636.8 137.9,636.3 139.2,636.5 140.0,636.5 141.0,636.1 142.2,636.0 142.9,636.1 144.2,635.7 144.9,635.2 146.0,635.1" fill="none" stroke="#000" stroke-width="1.3" stroke-linejoin="round"/><polyline points="140.0,636.5 141.0,636.1 142.2,636.0 142.9,636.1 144.2,635.7 144.9,635.2 146.0,635.1 146.9,634.4 148.3,634.2 149.4,633.1 149.7,631.6 150.4,630.9 151.1,630.2 151.4,629.0 151.8,627.8 151.8,627.0 152.1,625.7 152.8,624.3 152.8,623.6 153.0,622.1 153.3,621.7 153.4,619.9 153.4,619.5 153.8,617.8 154.1,616.9 154.4,615.7 154.8,614.9 155.0,613.2 155.0,612.3 155.2,611.6 155.5,610.2 155.7,609.1 156.0,608.4 156.0,607.1 156.1,606.1 156.1,604.7 156.5,604.6 156.7,603.2 156.8,602.1 156.9,601.1 157.4,600.3 157.4,599.1 157.3,598.2 157.6,596.8 157.9,595.7 157.8,595.3 158.2,594.0 158.1,592.5 158.2,592.3 158.5,590.7 158.4,589.9 158.8,588.2 158.4,588.0 158.9,586.9 158.8,585.3 158.9,584.4 158.9,583.5 158.9,582.5 159.1,581.5 159.1,580.2 159.2,579.0 159.4,577.5 159.4,576.6 160.1,575.9 159.9,574.5 159.9,573.3 159.9,572.0 160.3,571.1 160.6,570.0 160.4,568.4 160.9,567.3 160.8,566.6 161.2,565.2 161.2,564.5 161.2,563.8 161.3,562.5 161.4,561.7 161.8,560.6 162.3,559.4 162.4,558.8 162.8,557.7 163.1,557.0 163.0,555.4 163.4,554.7 163.1,553.8 163.6,552.3 163.5,551.8 163.8,550.7 164.0,549.3 164.4,548.7 164.2,547.5 164.5,546.0 164.8,544.8 164.8,543.8 165.0,542.3 165.0,541.7 165.2,540.2 165.7,538.8 165.5,538.4 165.8,536.9 167.3,537.9 168.8,537.4 169.1,538.4 169.5,539.6 169.7,540.3 170.1,542.1 170.2,542.8 170.8,543.6 171.1,545.1 171.6,546.2 171.7,546.8 172.2,548.1 172.8,548.5 173.2,549.8 173.6,551.0 173.8,552.1 173.9,553.1 173.8,554.0 174.0,555.4 174.2,556.7 174.0,557.5 174.4,558.6 174.3,560.5 174.8,561.5 174.7,562.6 176.2,563.6 176.5,564.5 176.8,565.2 176.5,566.8 177.2,567.8 177.2,568.6 177.5,569.2 177.5,570.5 178.0,571.8 178.2,572.5 179.1,573.2 179.7,574.5 180.2,575.7 180.6,576.3 181.1,577.5 181.2,578.3 181.9,579.2 182.2,580.3 182.6,581.4 183.1,580.4 183.6,579.5 184.0,580.2 184.2,581.1 184.1,582.1 184.6,583.4 184.7,584.2 184.9,585.4 184.9,586.5 185.2,587.6 185.6,588.5 185.6,589.4 185.9,590.8 186.1,591.5 186.0,592.3 186.5,593.9 186.3,594.6 186.9,595.9 186.7,596.6 187.1,598.1 187.5,599.6 187.5,600.0 188.3,601.4 188.4,602.8 188.6,604.0 189.1,604.8 189.5,606.0 189.8,606.5 190.1,607.2 190.8,609.1 191.2,609.7 191.3,610.8 191.8,611.5 192.5,612.6 192.5,613.7 193.3,614.1 193.5,615.2 194.2,616.0 194.5,616.9 195.0,617.9 195.5,618.6 195.8,620.0 195.8,621.1 196.3,621.4 197.0,622.8 197.2,623.6 197.9,624.6 198.2,625.4 198.4,626.7 198.9,627.1 199.2,628.2 199.9,629.0 200.3,630.3 201.3,631.0 202.1,631.7 202.6,633.1 203.7,633.4 204.5,634.7 205.4,634.8 206.6,635.8 207.9,635.7 208.8,635.9 210.1,635.9 210.8,636.6 212.0,636.4 213.2,636.2 213.9,636.3 215.3,636.3 216.1,636.6 216.9,636.3 218.0,636.6" fill="none" stroke="#000" stroke-width="2.2" stroke-linejoin="round"/>
<polygon points="277.4,638.2 277.4,588.5 277.9,588.0 278.8,584.0 279.6,582.2 280.8,581.1 281.9,578.8 283.1,576.5 284.2,575.3 285.4,577.6 286.0,573.6 286.5,568.4 287.4,573.6 288.3,567.8 289.4,569.0 290.3,571.3 291.2,566.1 292.3,566.1 293.5,565.5 294.3,569.5 294.9,573.6 295.5,568.4 296.4,570.1 297.2,573.0 298.1,575.9 298.7,579.9 299.2,582.8 300.1,579.4 301.3,581.7 302.1,584.5 303.5,591.9 304.8,598.0 306.5,604.0 308.2,609.2 310.4,613.5 312.1,617.9 313.8,622.2 315.1,625.7 317.3,629.1 319.9,630.8 322.5,633.0 326.0,634.3 330.3,635.6 334.6,636.5 338.9,637.3 345.0,637.8 347.0,638.2" fill="#d2d2d2" stroke="#000" stroke-width="1.1" stroke-linejoin="round"/>
<polyline points="295.0,638.0 296.2,638.1 296.8,638.2 297.9,638.2 299.2,638.1 300.0,637.8 301.2,637.9 302.1,637.8 302.9,637.8 304.0,637.0 305.2,637.3 306.5,636.5 307.6,636.7 308.7,636.0 309.6,635.0 310.6,634.3 311.2,633.4 311.7,632.9 312.2,632.1 313.0,630.8 313.6,629.3 313.8,628.3 314.3,627.4 314.7,626.4 314.5,625.6 315.1,624.6 315.1,623.1 315.5,621.8 315.6,621.2 315.9,619.7 315.9,618.7 316.0,617.9 316.0,617.2 316.3,616.1 316.9,614.2 316.9,613.5 316.9,612.8 317.2,611.7 317.5,610.3 318.0,609.3 318.0,608.2 318.2,607.5 318.5,606.4 318.9,605.5 318.8,604.4 319.3,603.2 319.5,602.3 319.5,601.5 319.8,600.1 320.1,598.9 319.9,597.9 320.3,596.9 320.3,595.4 320.5,594.1 320.7,593.1 320.5,592.2 321.1,591.4 321.3,590.1 321.2,589.3 321.4,588.4 321.5,586.9 321.6,585.9 321.2,584.7 321.3,583.6 321.3,583.2 321.6,581.5 321.6,580.9 321.6,579.4 321.7,578.6 322.1,577.8 322.2,576.2 322.1,575.3 322.2,574.4 322.6,573.4 322.6,572.3 322.6,571.0 322.8,569.8 323.1,568.7 323.3,568.0 323.3,566.6 323.6,566.2 323.9,564.4 323.6,563.8 324.0,562.8 324.4,561.9 324.3,560.7 324.4,559.5 324.7,558.7 324.7,557.4 324.9,556.5 324.8,555.4 324.9,554.2 325.0,553.6 325.2,552.4 325.1,551.5 325.4,550.0 325.8,548.8 325.5,548.3 325.7,547.1 325.8,545.7 326.2,545.1 326.5,544.0 326.5,542.6 327.1,541.6 327.8,540.6 328.1,539.4 328.8,538.4 329.7,537.3 330.3,536.5 330.5,535.0 330.7,534.1 331.0,532.9 330.9,531.9 331.3,530.6 331.2,529.4 331.4,528.9 331.8,527.7 331.9,526.3 332.3,525.1 332.8,524.0 333.9,525.6 334.1,526.6 333.9,527.6 334.0,529.0 334.1,529.5 334.5,530.8 334.4,532.0 334.7,532.8 334.9,534.4 335.0,535.5 335.2,536.2 335.0,536.9 335.5,538.0 335.5,539.7 335.5,540.5 335.4,539.4 335.6,538.0 335.8,537.4 336.0,536.4 336.0,535.4 336.3,534.4 336.3,532.6 336.2,531.8 336.7,530.6 336.6,529.8 336.9,530.9 337.4,531.8 337.6,533.0 337.7,533.7 337.7,535.5 337.8,536.1 337.8,537.6 337.9,538.1 338.1,539.4 338.1,540.5 338.2,541.1 338.6,542.5 338.5,544.0 338.8,545.0 338.9,545.3 339.2,546.7 339.2,548.1 339.2,548.9 339.5,550.1 339.6,550.7 339.9,552.1 339.9,553.2 340.0,554.4 340.3,555.3 340.3,556.4 340.7,557.9 341.0,558.9 341.1,559.1 340.9,561.1 341.3,561.7 341.3,562.7 341.9,563.8 341.7,564.7 342.2,566.0 342.3,566.8 342.4,568.0 342.3,569.1 342.6,569.9 343.0,571.5 343.2,572.6 343.1,573.6 343.5,574.6 343.5,575.4 343.6,576.1 344.1,577.5 344.0,579.0 344.4,579.3 344.1,581.0 344.5,581.8 344.5,582.9 344.7,584.1 344.8,585.0 345.0,585.9 345.1,587.5 344.8,587.8 345.2,589.2 345.6,590.2 345.6,591.4 345.4,592.6 345.6,593.8 345.8,594.6 346.2,595.4 346.0,596.9 346.5,597.6 346.8,599.1 346.5,600.0 347.2,601.1 347.2,602.3 347.4,603.5 347.7,604.3 347.7,605.4 348.4,607.1 348.4,608.0 348.7,609.0 349.1,609.9 349.4,611.4 349.4,612.8 349.7,613.6 349.9,614.7 350.1,615.8 350.3,616.6 350.5,618.3 351.0,619.6 351.2,620.5 351.5,621.5 352.0,622.3 352.6,623.7 353.0,624.0 353.5,625.4 353.9,626.3 354.4,627.2 355.2,627.9 356.1,628.8 356.8,629.2 357.5,629.8 358.3,630.8 359.3,631.8 360.2,632.1 361.0,632.9 361.9,633.7 362.8,633.9 364.0,634.5 364.7,634.7 366.1,635.6 367.1,635.2 367.9,636.0 369.0,636.3 369.7,636.3 370.9,637.3 371.7,637.4 373.0,637.4 374.0,637.7 375.1,637.4 376.5,637.9 377.6,637.5 378.6,638.1 379.7,637.8 380.4,637.5 381.3,638.2 382.3,638.1 383.5,638.1 384.7,638.1 385.5,638.1 386.6,637.5 387.8,638.1 388.3,637.7 389.5,637.5 390.4,637.6 391.8,637.9 392.4,637.9 393.8,638.3 394.5,638.3 395.8,637.7 396.7,638.3 397.8,638.0 398.5,638.1 399.5,638.2 400.6,638.0 401.8,637.8 402.6,638.0 403.9,638.2 404.5,638.2 405.6,638.1 406.8,638.3 407.7,637.5 408.9,637.6 409.7,638.2 410.5,637.7 411.6,638.2 412.9,637.8 413.9,637.9 414.6,637.7 415.8,637.7 416.7,637.6 417.8,638.0 419.0,638.3 420.0,637.5 420.9,637.5 421.8,638.3 422.8,637.5 423.8,638.0 424.8,637.5 425.6,637.5 426.8,637.7 428.0,638.0 428.8,638.0 430.1,638.0 431.1,637.5 432.1,638.3 432.8,637.5 433.8,637.8 434.9,637.8 435.9,637.6 437.1,638.3 437.7,637.5 439.0,637.9 440.0,637.5 441.0,637.9 441.7,638.3 442.9,637.5 443.7,637.8 444.9,637.6 445.9,637.9 446.7,638.3 448.2,637.5 449.0,637.9" fill="none" stroke="#000" stroke-width="1.15" stroke-linejoin="round"/>
<polyline points="277.5,637.8 278.7,637.9 279.7,637.6 280.6,637.8 281.3,637.6 282.4,637.6 283.6,637.6 284.8,637.4 285.5,638.0 286.8,637.9 287.6,638.0 289.0,638.1 290.0,638.2 291.0,638.2 291.9,638.1 293.0,638.2 293.8,638.1 295.0,638.0 296.1,638.1 296.8,637.9 297.8,637.4 299.2,637.5 300.0,637.8 301.1,637.4 301.9,637.5 302.9,638.1 304.0,637.4 305.2,637.8 305.8,637.6 307.1,637.7 308.1,637.9 309.0,638.0 310.0,637.9 310.8,638.2 312.1,638.0 313.3,638.2 314.0,638.2 315.3,638.2 315.7,637.7 317.2,637.9 318.1,637.4 319.0,638.2 319.9,637.4 320.9,637.6 321.8,637.4 323.2,637.7 324.1,638.0 325.2,638.0 326.1,637.9 327.2,637.8 328.2,638.0 328.8,637.4 330.0,637.8 330.8,637.4 332.1,638.0 332.8,638.1 333.9,637.7 335.0,638.0 335.9,637.6 337.2,637.6 338.1,637.9 338.9,637.8 340.1,637.9 340.9,638.1 342.1,638.0 343.2,638.0 343.9,638.1 345.1,638.1 345.7,638.3 347.1,637.9 348.0,638.2 349.2,637.6 349.9,638.0 351.2,638.2 352.2,638.0 352.9,637.6 354.3,637.7 354.9,638.2 355.9,638.1 357.2,638.0 358.0,637.6 359.2,637.7 360.0,637.9 360.9,637.5 361.9,637.5 363.2,638.1 364.0,637.6 365.1,637.5 366.1,637.8 367.6,637.3 368.5,637.2 369.4,637.2 370.8,637.2 371.6,637.6 372.7,637.4 373.7,636.7 374.7,635.8 375.6,635.0 376.1,634.4 376.6,632.9 376.7,631.9 377.2,631.2 377.5,630.2 378.1,628.9 378.2,627.9 378.5,627.0 378.9,626.3 379.3,625.3 379.4,624.2 379.7,623.1 380.1,622.2 380.4,621.5 380.6,620.4 380.6,619.0 380.7,618.4 380.8,616.8 381.1,616.1 381.1,615.1 381.3,613.8 381.4,613.1 381.4,611.8 381.5,610.4 381.6,609.9 381.4,608.3 381.6,607.5 381.7,606.2 381.7,605.0 381.8,604.2 381.7,603.2 381.8,601.8 382.1,601.4 381.9,600.1 382.0,598.7 382.3,598.1 382.3,596.6 382.3,595.8 382.3,594.6 382.1,594.0 382.6,592.3 382.5,591.2 382.4,590.2 382.4,589.2 382.8,588.6 382.5,587.9 382.6,586.7 382.8,585.7 383.2,584.2 382.9,583.8 383.1,582.8 383.1,581.4 383.1,580.4 383.1,579.0 383.3,578.0 383.3,577.4 383.8,576.1 383.8,575.4 383.6,574.0 383.9,572.6 384.1,571.9 384.4,571.2 384.3,569.9 384.4,568.7 384.5,567.8 384.5,566.3 384.8,565.3 384.7,564.9 384.7,563.6 385.2,562.0 385.3,561.5 384.9,560.2 385.4,559.2 385.4,557.7 385.5,557.4 385.6,556.0 385.5,554.8 385.8,553.9 385.9,553.1 386.0,551.6 386.2,550.9 386.2,549.5 386.4,548.1 386.3,547.4 386.5,546.8 386.6,545.3 386.9,544.1 386.9,543.2 387.2,542.3 387.1,541.0 387.4,540.1 387.5,538.6 387.6,537.6 387.4,536.5 387.8,535.7 387.6,534.8 387.8,533.8 388.2,532.4 388.1,531.5 388.2,530.5 388.5,529.2 388.7,528.5 388.7,527.8 389.1,526.7 389.0,525.8 389.3,524.4 389.7,523.2 389.8,522.9 390.1,521.6 390.5,520.3 390.3,519.5 390.8,518.6 391.2,517.6 391.2,516.0 391.4,515.2 392.0,513.3 392.3,514.6 392.0,515.4 392.4,516.2 392.6,517.7 392.5,518.6 392.6,519.7 392.8,520.5 392.9,521.9 393.2,522.5 393.2,524.1 393.4,524.7 393.3,526.0 393.3,526.7 393.4,527.9 393.7,528.9 393.7,529.7 393.9,530.9 394.5,531.3 394.7,533.1 394.7,533.2 394.7,534.3 395.2,535.6 395.2,536.5 395.5,537.1 395.8,538.3 396.1,539.9 396.2,540.1 396.5,541.7 396.9,542.2 397.0,543.7 397.1,544.5 397.3,545.8 397.6,546.3 397.8,548.0 397.7,548.8 398.2,549.8 398.3,551.0 398.4,552.1 398.6,553.3 398.7,554.7 398.9,555.7 399.0,556.8 399.5,557.7 399.3,558.3 399.7,559.8 400.0,560.8 400.2,561.9 400.4,563.2 400.6,564.1 400.7,565.5 401.0,566.5 400.9,567.4 401.2,568.5 401.6,569.5 402.1,570.5 402.2,571.2 402.6,572.8 402.8,573.8 402.8,575.0 402.9,576.1 403.2,576.8 403.4,578.6 403.7,579.3 404.1,580.0 404.1,581.4 403.9,582.6 404.3,583.9 404.2,584.8 404.3,585.7 404.8,587.1 404.5,587.9 404.9,588.4 404.8,589.8 406.0,590.1 407.3,591.0 407.6,592.1 407.6,593.4 407.9,594.0 408.1,595.5 408.8,596.6 409.5,597.6 409.7,598.5 410.5,599.5 411.0,600.4 410.8,601.5 411.3,602.8 411.7,603.1 411.7,604.4 412.0,605.9 412.0,606.6 412.3,608.0 412.5,609.2 412.8,610.4 413.7,611.4 414.0,612.4 414.5,613.2 414.9,614.2 415.3,615.3 415.6,616.3 416.1,617.3 416.5,618.7 417.0,619.4 417.3,620.5 418.3,621.2 419.3,621.8 420.2,622.9 420.5,624.1 421.1,625.1 421.8,626.1 422.5,626.8 422.8,628.0 423.4,628.5 424.2,629.4 424.9,630.4 425.8,631.0 426.6,631.8 427.7,632.6 428.2,633.1 429.0,633.8 430.0,634.3 431.2,635.1 432.3,635.4 433.4,636.6 434.7,637.0 435.7,637.1 437.1,638.0 438.1,637.7 439.2,637.6 440.6,638.3 441.5,637.7 442.3,638.2 443.7,637.6 444.9,638.0 445.7,638.3 446.7,637.7 447.9,638.4 449.0,638.0" fill="none" stroke="#000" stroke-width="2.2" stroke-linejoin="round"/>
<polygon points="483.2,17 474.9,40 491.5,40" fill="#000"/><rect x="481.3" y="39" width="3.8" height="222.5" fill="#000"/>
<polygon points="483.8,273.8 460.3,265.5 460.3,282.1" fill="#000"/><rect x="1.2" y="271.8" width="460.1" height="4.0" fill="#000"/>
<polygon points="483.5,412.7 475.2,435.5 491.8,435.5" fill="#000"/><rect x="481.6" y="434.5" width="3.8" height="222.39999999999998" fill="#000"/>
<polygon points="483.8,670.6 459.7,662.3000000000001 459.7,678.9" fill="#000"/><rect x="3.8" y="668.6" width="456.9" height="4.0" fill="#000"/>
<text x="174.9" y="299" font-size="15.9" font-weight="bold" class="h" style="stroke-width:0.3px">Fluorescence (log)</text>
<text x="187.2" y="701.2" font-size="15.9" font-weight="bold" class="h" style="stroke-width:0.3px">Fluorescence (log)</text>
<text transform="translate(494.4 59.3) rotate(90)" font-size="15.9" font-weight="bold" class="h" style="stroke-width:0.3px">Relative Cell Counts</text>
<text transform="translate(506.7 462) rotate(90)" font-size="15.9" font-weight="bold" class="h" style="stroke-width:0.3px">Relative Cell Counts</text>
</svg></body></html>
